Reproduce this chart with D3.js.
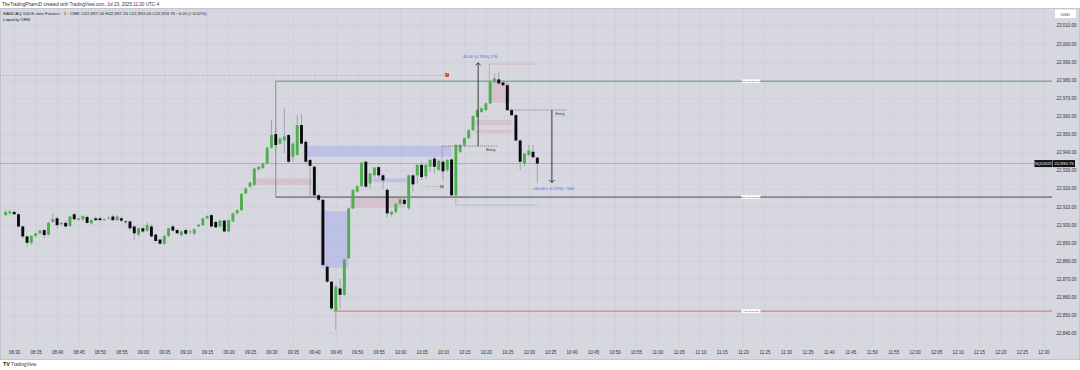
<!DOCTYPE html>
<html><head><meta charset="utf-8">
<script src="https://cdn.jsdelivr.net/npm/d3@7"></script>
<style>
html,body{margin:0;padding:0;background:#fff;}
svg{display:block;font-family:"Liberation Sans",Arial,sans-serif;}
</style></head>
<body><svg id="c" width="1080" height="370"></svg>
<script>
// ---------- DATA ----------
const firstBarMinute = -2;             // first bar = 08:28 (minutes after 08:30)
const opens  = [22905.25,22906.25,22907,22905.75,22899,22893.5,22890,22893.75,22895.25,22897,22894.5,22901.5,22903.5,22900.25,22901,22899.25,22905.75,22902.75,22903,22904.25,22900.75,22903.5,22903.5,22902.5,22903.5,22904.5,22902.5,22903.5,22901.75,22901.75,22899,22894.5,22898,22896.75,22899,22894.5,22891.75,22889.5,22893.75,22899,22897,22894.25,22897,22896,22895,22899,22899.75,22903.5,22905.25,22901.5,22899,22902.25,22896.25,22901.75,22906.25,22908,22917.25,22921,22922,22930.5,22931.25,22933.75,22942.5,22950,22944.75,22946.5,22949.5,22937.5,22938.5,22955,22945.75,22935.75,22932,22916.25,22913.75,22876.75,22868.5,22852.5,22864.75,22861.25,22881.5,22909,22918.25,22921.25,22934.75,22922.75,22927.25,22931.75,22927.25,22919.25,22905.75,22907,22911.5,22913.75,22909,22927.25,22927.25,22933,22926.75,22932,22936.5,22930.25,22934.75,22930.25,22936,22916.25,22940.25,22943.75,22947.75,22952.25,22959.5,22962.25,22963.25,22967,22979,22980.25,22978.5,22977,22963.25,22960.5,22946.5,22933.75,22938.5,22940.25,22937];
const highs  = [22908,22908,22908,22906.25,22899.5,22894,22894.25,22895.5,22897,22897.75,22901.5,22906.25,22904.5,22901.5,22902,22905,22906.5,22904,22905.25,22905,22903,22904.5,22904,22903.5,22905,22905.5,22905.25,22904.25,22902.5,22902.5,22899.5,22898.5,22899,22901.25,22900,22895,22892.25,22894.5,22898.25,22899.75,22897.75,22896.75,22898,22897,22898,22900.25,22903.75,22905.25,22906.25,22902.25,22902.5,22902.75,22903,22906.5,22908.5,22917.5,22920.5,22923.75,22931.5,22932.5,22934.25,22943,22957.75,22954.25,22948.25,22964.25,22950.25,22945.5,22960.5,22961.25,22946.75,22936.5,22932.5,22917,22914.25,22877.75,22869,22867,22870.25,22881.25,22909.5,22919.75,22921.75,22935,22935.5,22928.75,22932,22932.5,22928.25,22920.25,22908,22912.25,22914.5,22914.5,22927.75,22928,22933.5,22934.5,22933.5,22936.5,22937.5,22936,22935.5,22936.25,22936.75,22944.5,22944.5,22948.25,22952.75,22960.25,22963.75,22964.75,22967.5,22979.5,22983.5,22984.75,22979.5,22977.75,22964.25,22961.25,22947.25,22939.75,22944,22944,22937.25];
const lows   = [22904.5,22905.5,22905.5,22898.5,22892.5,22887.75,22888.75,22893,22894.5,22892.5,22894,22901,22898,22899.5,22898.5,22898.5,22902.25,22902,22902,22900.5,22900,22902,22902.25,22902,22903,22902,22902,22901.5,22900.5,22897,22891.5,22893.5,22895.5,22896,22893,22890.75,22889,22888.75,22893,22896.25,22894.75,22893.5,22894.25,22895,22894,22898.5,22899.25,22903,22898.5,22898.25,22898.5,22895.75,22895.75,22901.5,22905.5,22907.5,22916.75,22920.5,22921.25,22930,22930.75,22933.25,22942,22942,22944,22939.5,22934,22935,22938,22944,22934.25,22915.5,22915.25,22912.5,22877,22867.75,22852.75,22841.75,22853.75,22860.25,22881,22908.5,22917.75,22920.75,22920.25,22919.75,22926.25,22925.75,22919.75,22904,22904.5,22906.25,22910.75,22910.75,22908.25,22918.25,22922.75,22924.75,22925.25,22929,22928,22929.5,22924.75,22929,22915.75,22915.5,22939.5,22943,22947.25,22951.75,22959,22961.75,22962.75,22966.5,22978,22977.5,22976.5,22962.75,22960,22946.25,22930.25,22932,22937.75,22936.5,22923];
const closes = [22907,22907.25,22905.75,22899,22893.5,22890,22893.75,22895.25,22896.75,22894.25,22901,22903,22899.75,22901,22899,22904.5,22903,22903.5,22904.75,22901,22902.5,22902.5,22902.5,22903,22903.75,22902.5,22904.5,22902.25,22901.5,22898,22895.25,22898,22896.25,22899.75,22893.5,22891,22889.5,22893.75,22898,22896.75,22895.25,22896.25,22895,22896.25,22897.5,22900,22903.5,22904.75,22899,22898.5,22902.25,22896.25,22902.5,22906.25,22908,22917,22920,22923.25,22931,22932,22933.75,22942.5,22949.5,22944,22947.5,22948.75,22934.75,22944.75,22955,22944.75,22934.75,22932.5,22916.25,22913.75,22877.75,22868.5,22853.75,22865.75,22861.25,22880.75,22909,22919.25,22921.25,22934.25,22921,22928.25,22931.5,22927.25,22924.5,22906.25,22907,22911.5,22914,22911.5,22927.25,22922.25,22933,22926.25,22933,22935.75,22932,22935.25,22929.5,22935.75,22916.25,22944,22944,22947.75,22952.25,22960,22963.25,22964.25,22967,22979,22980.75,22978,22977,22963.25,22960.5,22946.5,22934.75,22939.25,22941,22937.25,22933.75];

const timeLabels = ["08:30","08:35","08:40","08:45","08:50","08:55","09:00","09:05","09:10","09:15","09:20","09:25","09:30","09:35","09:40","09:45","09:50","09:55","10:00","10:05","10:10","10:15","10:20","10:25","10:30","10:35","10:40","10:45","10:50","10:55","11:00","11:05","11:10","11:15","11:20","11:25","11:30","11:35","11:40","11:45","11:50","11:55","12:00","12:05","12:10","12:15","12:20","12:25","12:30"];
const priceTicks = [22840,22850,22860,22870,22880,22890,22900,22910,22920,22930,22940,22950,22960,22970,22980,22990,23000,23010];

const lastPrice = 22933.75;
const orbHigh = 22979.25, orbLow = 22915.25, sweepLow = 22852.25, orbStartMin = 61;
const priorHigh = 22982.5;       // dotted level
// zones: [startMin, endMin, lowPrice, highPrice]
const blueZones = [[68,102,22937.5,22943.5],[71.5,78,22876.25,22907.5],[83.7,91.6,22923.5,22925.6]];
const pinkZones = [[55.7,69.4,22921.9,22925.6],[78.3,91.1,22909.3,22915.4],[107.5,116.1,22955,22957.75],[107.5,116.1,22950.6,22952.3],[111,115.6,22967.3,22978.7]];
const longTool  = {min:108.2, entry:22943.4, target:22989.4, entryFrom:99.8, entryTo:112.6, label:"46.00 (0.19%) 176"};
const shortTool = {min:125.4, entry:22963.3, target:22923.3, entryFrom:115, entryTo:128.7, label:"\u221240.00 (\u22120.17%) \u2212160"};

// ---------- LAYOUT ----------
const W=1080,H=370, plotTop=8, plotRight=1052, plotBottom=347;
const svg=d3.select("#c");
const x=d3.scaleLinear().domain([0,240]).range([14.2,1043.3]);
const y=d3.scaleLinear().domain([22840,23010]).range([333.3,25.5]);
const toMin=s=>{const [h,m]=s.split(":").map(Number);return h*60+m-510;};

svg.append("rect").attr("width",W).attr("height",H).attr("fill","#fff");
svg.append("rect").attr("x",0.5).attr("y",plotTop+0.5).attr("width",W-1).attr("height",351).attr("fill","#d6d7df").attr("stroke","#c4c5cd");

// header
svg.append("text").attr("x",2).attr("y",5.5).attr("font-size",4.6).attr("fill","#333").text("TheTradingPharmD created with TradingView.com, Jul 20, 2025 11:20 UTC-4");
svg.append("text").attr("x",3).attr("y",14.5).attr("font-size",4.4).attr("fill","#222").text("NASDAQ 100 E-mini Futures \u00b7 1 \u00b7 CME  O22,937.00  H22,937.25  L22,933.00  C22,933.75  \u22124.00 (\u22120.02%)");
svg.append("text").attr("x",3).attr("y",21).attr("font-size",4.4).attr("fill","#222").text("Liquidity ORB");

const defs=svg.append("defs");
defs.append("clipPath").attr("id","plot").append("rect").attr("x",0).attr("y",plotTop).attr("width",plotRight).attr("height",plotBottom-plotTop);

// grid via axes
const gridY=svg.append("g")
  .call(d3.axisRight(y).tickValues(priceTicks).tickSize(plotRight).tickFormat(""));
gridY.select(".domain").remove();
gridY.selectAll("line").attr("stroke","#cbccd5").attr("stroke-width",0.6);
const gridX=svg.append("g").attr("transform",`translate(0,${plotTop})`)
  .call(d3.axisBottom(x).tickValues(timeLabels.map(toMin)).tickSize(plotBottom-plotTop).tickFormat(""));
gridX.select(".domain").remove();
gridX.selectAll("line").attr("stroke","#cbccd5").attr("stroke-width",0.6);

const g=svg.append("g").attr("clip-path","url(#plot)");

// zones
g.selectAll(".bz").data(blueZones).join("rect")
  .attr("x",d=>x(d[0])).attr("width",d=>x(d[1])-x(d[0]))
  .attr("y",d=>y(d[3])).attr("height",d=>y(d[2])-y(d[3]))
  .attr("fill","#a9aeea").attr("opacity",0.55);
g.selectAll(".pz").data(pinkZones).join("rect")
  .attr("x",d=>x(d[0])).attr("width",d=>x(d[1])-x(d[0]))
  .attr("y",d=>y(d[3])).attr("height",d=>y(d[2])-y(d[3]))
  .attr("fill","#d6b4bc").attr("opacity",0.6);

// levels
g.append("line").attr("x1",0).attr("x2",x(101)).attr("y1",y(priorHigh)).attr("y2",y(priorHigh))
  .attr("stroke","#e06a6a").attr("stroke-width",0.6).attr("stroke-dasharray","1.2,1.6");
g.append("rect").attr("x",x(101)-1.5).attr("y",y(priorHigh)-1.5).attr("width",3).attr("height",3).attr("fill","#e65a1e").attr("stroke","#7a1e0e").attr("stroke-width",0.4);
g.append("line").attr("x1",0).attr("x2",plotRight).attr("y1",y(lastPrice)).attr("y2",y(lastPrice)).attr("stroke","#9c9ea6").attr("stroke-width",0.7);
g.append("line").attr("x1",x(orbStartMin)).attr("x2",plotRight).attr("y1",y(orbHigh)).attr("y2",y(orbHigh)).attr("stroke","#4f9a5c").attr("stroke-width",0.9);
g.append("line").attr("x1",x(orbStartMin)).attr("x2",plotRight).attr("y1",y(orbLow)).attr("y2",y(orbLow)).attr("stroke","#3a3c44").attr("stroke-width",0.9);
g.append("line").attr("x1",x(orbStartMin)).attr("x2",x(orbStartMin)).attr("y1",y(orbHigh)).attr("y2",y(orbLow)).attr("stroke","#80828a").attr("stroke-width",0.9);
g.append("line").attr("x1",x(74.5)).attr("x2",plotRight).attr("y1",y(sweepLow)).attr("y2",y(sweepLow)).attr("stroke","#e0605e").attr("stroke-width",0.9);
// small brackets
g.append("line").attr("x1",x(110.8)).attr("x2",x(121.8)).attr("y1",y(22988.7)).attr("y2",y(22988.7)).attr("stroke","#d9a0a8").attr("stroke-width",0.6);
g.append("line").attr("x1",x(110.8)).attr("x2",x(110.8)).attr("y1",y(22988.7)).attr("y2",y(orbHigh)).attr("stroke","#9a9ca4").attr("stroke-width",0.6);
g.append("line").attr("x1",x(103)).attr("x2",x(122)).attr("y1",y(22910.9)).attr("y2",y(22910.9)).attr("stroke","#8fb6c0").attr("stroke-width",0.7);
g.append("line").attr("x1",x(103)).attr("x2",x(103)).attr("y1",y(orbLow)).attr("y2",y(22910.9)).attr("stroke","#9a9ca4").attr("stroke-width",0.6);
// dotted marker near 10:09
g.append("line").attr("x1",x(96)).attr("x2",x(99.8)).attr("y1",y(22921)).attr("y2",y(22921)).attr("stroke","#777").attr("stroke-width",0.5).attr("stroke-dasharray","1,1");
g.append("rect").attr("x",x(99.8)-1.3).attr("y",y(22921)-1.3).attr("width",2.6).attr("height",2.6).attr("fill","#e8863a").attr("stroke","#7a3e0e").attr("stroke-width",0.3);
g.append("line").attr("x1",x(99.8)).attr("x2",x(99.8)).attr("y1",y(longTool.entry)).attr("y2",y(22935)).attr("stroke","#555").attr("stroke-width",0.5).attr("stroke-dasharray","1,1");

// level tags
const tags=[[orbHigh,"ORB High 22,979.25"],[orbLow,"ORB Low 22,915.25"],[sweepLow,"Low 22,852.25"]];
tags.forEach(([p,t])=>{
  g.append("rect").attr("x",741.5).attr("y",y(p)-1.8).attr("width",19).attr("height",3.6).attr("fill","#fff");
  g.append("text").attr("x",751).attr("y",y(p)+0.8).attr("font-size",2.4).attr("text-anchor","middle").attr("fill","#555").text(t);
});

// candles
const n=Math.min(opens.length,highs.length,lows.length,closes.length);
const bars=opens.slice(0,n).map((o,i)=>({m:firstBarMinute+i,o,h:highs[i],l:lows[i],c:closes[i]}));
const bw=2.9;
g.selectAll(".wick").data(bars).join("line")
  .attr("x1",d=>x(d.m)).attr("x2",d=>x(d.m)).attr("y1",d=>y(d.h)).attr("y2",d=>y(d.l))
  .attr("stroke","#8d8f97").attr("stroke-width",0.7);
g.selectAll(".body").data(bars).join("rect")
  .attr("x",d=>x(d.m)-bw/2).attr("width",bw)
  .attr("y",d=>y(Math.max(d.o,d.c))).attr("height",d=>Math.max(0.7,Math.abs(y(d.o)-y(d.c))))
  .attr("fill",d=>d.c>=d.o?"#4caf50":"#0b0b0f");

// position tools
function arrow(tool,up){
  const xx=x(tool.min);
  g.append("line").attr("x1",x(tool.entryFrom)).attr("x2",x(tool.entryTo)).attr("y1",y(tool.entry)).attr("y2",y(tool.entry))
    .attr("stroke","#444").attr("stroke-width",0.6).attr("stroke-dasharray","1,1");
  g.append("line").attr("x1",xx).attr("x2",xx).attr("y1",y(tool.entry)).attr("y2",y(tool.target)).attr("stroke","#111").attr("stroke-width",0.8);
  const ty=y(tool.target), s=up?1:-1;
  g.append("path").attr("d",`M${xx-2.5},${ty+2.5*s}L${xx},${ty}L${xx+2.5},${ty+2.5*s}`).attr("fill","none").attr("stroke","#111").attr("stroke-width",0.8);
  g.append("text").attr("x",xx+(up?8:3.5)).attr("y",y(tool.entry)+(up?4.5:5)).attr("font-size",4).attr("fill","#333").text("Entry");
  g.append("text").attr("x",xx+(up?2:1)).attr("y",up?ty-5:ty+8).attr("font-size",4.2).attr("text-anchor","middle").attr("fill","#2f6bff").text(tool.label);
}
arrow(longTool,true);
arrow(shortTool,false);

// price axis
const ay=svg.append("g").attr("transform",`translate(1056.5,0)`)
  .call(d3.axisRight(y).tickValues(priceTicks).tickSize(0).tickPadding(0).tickFormat(d3.format(",.2f")));
ay.select(".domain").remove();
ay.selectAll("text").attr("font-size",4.5).attr("fill","#333").attr("font-family","Liberation Sans, Arial, sans-serif");
// usd box
svg.append("rect").attr("x",1055).attr("y",9.5).attr("width",21).attr("height",8.5).attr("fill","#fff");
svg.append("text").attr("x",1065.5).attr("y",15.5).attr("text-anchor","middle").attr("font-size",4.4).attr("fill","#333").text("USD");
// last price labels
svg.append("rect").attr("x",1034.5).attr("y",y(lastPrice)-3.5).attr("width",18).attr("height",7).attr("fill","#111");
svg.append("text").attr("x",1043.5).attr("y",y(lastPrice)+1.5).attr("text-anchor","middle").attr("font-size",3.8).attr("fill","#fff").text("NQU2025");
svg.append("rect").attr("x",1053).attr("y",y(lastPrice)-3.5).attr("width",22).attr("height",7).attr("fill","#111");
svg.append("text").attr("x",1064).attr("y",y(lastPrice)+1.5).attr("text-anchor","middle").attr("font-size",4.4).attr("fill","#fff").text("22,933.75");

// time axis
const ax=svg.append("g").attr("transform",`translate(0,350)`)
  .call(d3.axisBottom(x).tickValues(timeLabels.map(toMin)).tickSize(0).tickPadding(1).tickFormat((d,i)=>timeLabels[i]));
ax.select(".domain").remove();
ax.selectAll("text").attr("font-size",4.5).attr("fill","#333").attr("font-family","Liberation Sans, Arial, sans-serif");

// footer logo
svg.append("text").attr("x",3).attr("y",366).attr("font-size",5.5).attr("font-weight","bold").attr("fill","#222").text("TV");
svg.append("text").attr("x",11).attr("y",366).attr("font-size",4.6).attr("fill","#333").text("TradingView");
</script></body></html>
